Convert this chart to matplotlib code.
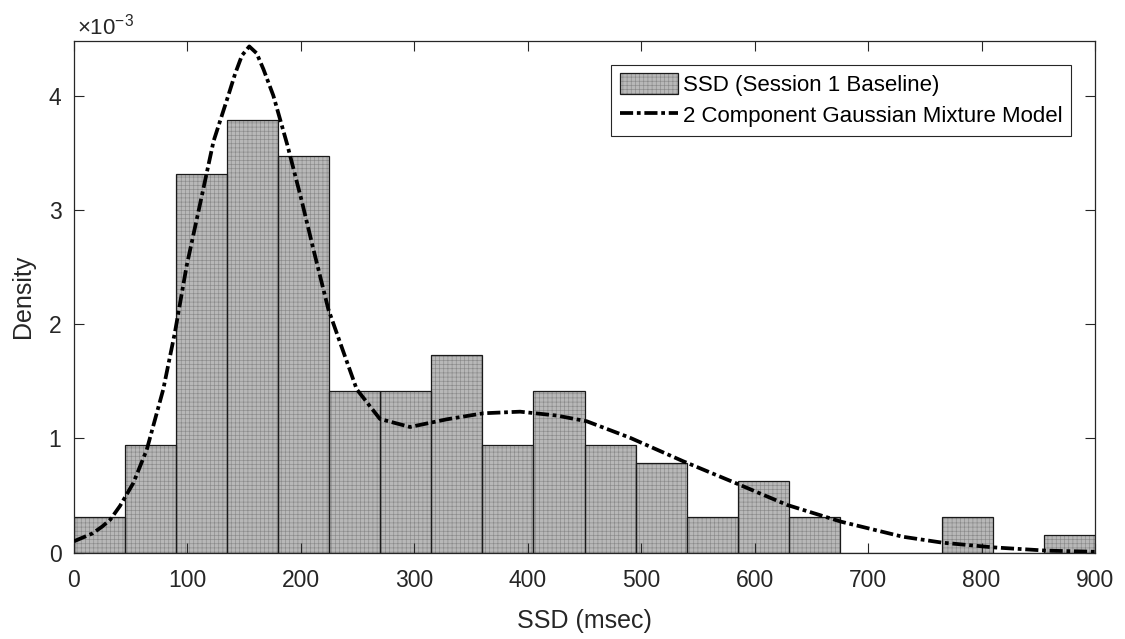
import matplotlib
matplotlib.use('Agg')
import matplotlib.pyplot as plt
import numpy as np
from matplotlib.patches import Rectangle
from matplotlib.legend_handler import HandlerTuple

plt.rcParams['font.family'] = ['Liberation Sans', 'DejaVu Sans']
plt.rcParams['mathtext.fontset'] = 'custom'
plt.rcParams['mathtext.rm'] = 'Liberation Sans'
plt.rcParams['mathtext.it'] = 'Liberation Sans:italic'
plt.rcParams['hatch.linewidth'] = 0.45
plt.rcParams['hatch.color'] = '#8a8a8a'

# SSD histogram, 45 ms bins, counts per bin (141 trials)
bin_edges = [0, 45, 90, 135, 180, 225, 270, 315, 360, 405, 450,
             495, 540, 585, 630, 675, 720, 765, 810, 855, 900]
bin_counts = [2, 6, 21, 24, 22, 9, 9, 11, 6, 9, 6, 5, 2, 4, 2, 0, 0, 2, 0, 1]

# 2 component GMM pdf (msec, density x 1e-3)
gmm_x = [0, 16.6, 25, 32, 40.6, 52.3, 64.1, 78.7, 89.0, 99.3, 111.1, 123,
         136, 142, 148, 154.5, 161, 167, 175.7, 188, 200.7, 210.9, 224.2,
         234.5, 249.2, 269.7, 296.2, 328.5, 360.8, 393.2, 425.5, 452, 490.1,
         537, 583, 628.6, 676.3, 730.4, 765.3, 809.8, 857.5, 900]
gmm_y = [0.10, 0.17, 0.23, 0.29, 0.41, 0.61, 0.90, 1.43, 1.93, 2.51, 3.05, 3.60,
         4.00, 4.19, 4.35, 4.43, 4.37, 4.23, 4.00, 3.57, 3.08, 2.66, 2.13,
         1.84, 1.43, 1.17, 1.10, 1.167, 1.22, 1.234, 1.20, 1.15, 1.006,
         0.80, 0.61, 0.418, 0.271, 0.140, 0.088, 0.047, 0.018, 0.008]

xticks = [0, 100, 200, 300, 400, 500, 600, 700, 800, 900]
yticks = [0, 1, 2, 3, 4]

edges = np.array(bin_edges, dtype=float)
counts = np.array(bin_counts, dtype=float)
widths = np.diff(edges)
density = counts / (counts.sum() * widths) * 1e3  # in units of 1e-3

fig = plt.figure(figsize=(11.25, 6.39), dpi=100)
ax = fig.add_axes([74 / 1125, 1 - 552.7 / 639, 1021 / 1125, 512 / 639])

dark = '#262626'
face = '#b8b8b8'
hatch_col = '#8a8a8a'

# textured fill, then black outlines on top
ax.bar(edges[:-1], density, width=widths, align='edge', color=face,
       edgecolor=hatch_col, linewidth=0, hatch='++++', zorder=1)
ax.bar(edges[:-1], density, width=widths, align='edge', fill=False,
       edgecolor='#1a1a1a', linewidth=0.9, zorder=2)

line, = ax.plot(gmm_x, gmm_y, color='k', lw=2.7, linestyle=(0, (3.5, 1, 1, 1)),
                dash_capstyle='butt', zorder=3)

ax.set_xlim(0, 900)
ax.set_ylim(0, 4.48)
ax.set_xticks(xticks)
ax.set_yticks(yticks)
ax.tick_params(direction='in', length=7.5, width=0.8, top=True, right=True,
               labelsize=16.5, color=dark, labelcolor=dark)
ax.tick_params(axis='x', pad=12)
ax.tick_params(axis='y', pad=9)
for s in ax.spines.values():
    s.set_color(dark)
    s.set_linewidth(0.9)

ax.set_xlabel('SSD (msec)', fontsize=18, color=dark, labelpad=12)
ax.set_ylabel('Density', fontsize=18, color=dark, labelpad=10)

fig.text(77 / 1125, 1 - 35 / 639, r'$\times10^{-3}$', fontsize=16, color=dark,
         va='baseline', ha='left')

p_fill = Rectangle((0, 0), 1, 1, facecolor=face, edgecolor=hatch_col, lw=0, hatch='++++')
p_edge = Rectangle((0, 0), 1, 1, fill=False, edgecolor='#1a1a1a', lw=0.9)
leg = ax.legend([(p_fill, p_edge), line],
                ['SSD (Session 1 Baseline)', '2 Component Gaussian Mixture Model'],
                handler_map={tuple: HandlerTuple(ndivide=1)},
                loc='upper right', bbox_to_anchor=(0.9765, 0.9535), borderaxespad=0,
                fontsize=16, fancybox=False, framealpha=1, edgecolor=dark,
                handlelength=2.65, handleheight=1.1, handletextpad=0.2,
                borderpad=0.38, labelspacing=0.36)
leg.get_frame().set_linewidth(0.8)
for t in leg.get_texts():
    t.set_color('k')

fig.savefig('out.png', dpi=100)
